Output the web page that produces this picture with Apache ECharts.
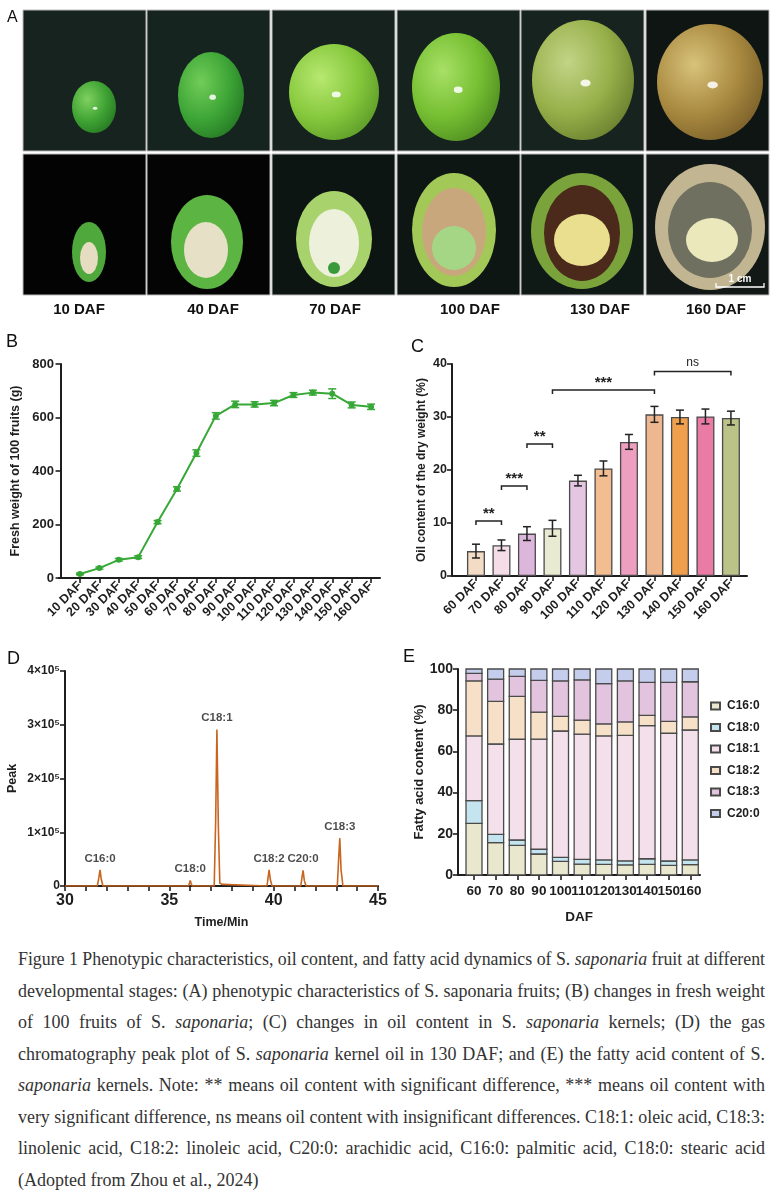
<!DOCTYPE html>
<html><head><meta charset="utf-8">
<script src="https://cdn.jsdelivr.net/npm/echarts@6/dist/echarts.min.js"></script>
<style>
html,body{margin:0;padding:0;background:#fff;}
#chart{position:absolute;left:0;top:0;width:774px;height:940px;}
#caption{position:absolute;left:18px;top:944px;width:747px;font-family:'Liberation Serif','Times New Roman',serif;font-size:18px;line-height:31.5px;color:#333;}
#caption .ln{white-space:nowrap;height:31.5px;}
#caption .ln span{display:inline-block;transform-origin:left center;}
</style></head><body>
<div id="chart"></div>
<div id="caption"></div>
<script>
// ---------- DATA ----------
// (B) fresh weight of 100 fruits
const weightDays = ['10 DAF','20 DAF','30 DAF','40 DAF','50 DAF','60 DAF','70 DAF','80 DAF','90 DAF','100 DAF','110 DAF','120 DAF','130 DAF','140 DAF','150 DAF','160 DAF'];
const weightMean = [15,37,68,78,209,333,467,606,649,649,654,684,693,689,647,640];
const weightErr  = [3,4,5,5,6,8,12,12,12,10,10,9,9,18,11,10];

// (C) oil content of the dry weight
const oilDays = ['60 DAF','70 DAF','80 DAF','90 DAF','100 DAF','110 DAF','120 DAF','130 DAF','140 DAF','150 DAF','160 DAF'];
const oilMean = [4.7,5.8,8.0,9.0,18.0,20.3,25.3,30.5,30.0,30.1,29.8];
const oilErr  = [1.3,1.0,1.3,1.5,1.0,1.4,1.4,1.5,1.3,1.4,1.3];
const oilColors = ['#f3dcc6','#f5dde8','#ddb7db','#e9ead2','#e5c6e2','#f2bd90','#ee9fc0','#eeb78f','#f0a04c','#ea7ba4','#bcc388'];
// significance brackets: from index, to index, bracket height, mark
const sigFrom  = [0,1,2,3,7];
const sigTo    = [1,2,3,7,10];
const sigLevel = [10.4,17.0,24.9,35.1,38.6];
const sigMark  = ['**','***','**','***','ns'];

// (D) GC chromatogram, 130 DAF
const gcTime   = [30,31.55,31.62,31.68,31.74,31.82,35.92,35.97,36.0,36.05,36.1,37.15,37.22,37.28,37.35,37.42,37.5,37.56,37.62,39.68,39.74,39.78,39.84,39.92,41.3,41.36,41.41,41.47,41.55,43.05,43.12,43.17,43.23,43.32,45];
const gcSignal = [0,0,15000,30000,12000,0,0,6000,10500,4000,0,0,120000,291000,110000,5000,6000,3000,0,0,18000,30000,12000,0,0,17000,29000,10000,0,0,55000,89000,30000,0,0];
const gcPeakTime = [31.68,36.0,37.28,39.78,41.41,43.17];
const gcPeakName = ['C16:0','C18:0','C18:1','C18:2','C20:0','C18:3'];

// (E) fatty acid composition (%)
const faDays = ['60','70','80','90','100','110','120','130','140','150','160'];
const faNames = ['C16:0','C18:0','C18:1','C18:2','C18:3','C20:0'];
const c16_0 = [25.1,15.7,14.4,10.2,6.6,5.3,5.2,4.9,5.2,4.7,5.0];
const c18_0 = [11.0,4.0,2.6,2.3,2.0,2.3,2.1,2.0,2.7,2.1,2.3];
const c18_1 = [31.4,43.9,48.9,53.5,61.3,60.8,60.2,60.9,64.6,62.0,63.1];
const c18_2 = [26.7,20.7,20.8,13.1,7.1,6.8,5.9,6.5,5.0,5.8,6.4];
const c18_3 = [3.7,10.8,9.7,15.4,17.2,19.5,19.5,19.9,16.0,18.9,17.0];
const c20_0 = [2.1,4.9,3.6,5.5,5.8,5.3,7.1,5.8,6.5,6.5,6.2];
const faColors = ['#e9e7cd','#c4e4ef','#f4e0ea','#f6e0c8','#e2c4df','#c4cdeb'];

// (A) stage labels
const photoDays = ['10 DAF','40 DAF','70 DAF','100 DAF','130 DAF','160 DAF'];

// ---------- STYLE HELPERS ----------
const FF = "'Liberation Sans', Arial, Helvetica, sans-serif";
const INK = '#1e1e1e';
const axisLine = {show:true, lineStyle:{color:INK, width:2}};
const axisTick = {show:true, length:5, lineStyle:{color:INK, width:1.6}};
function lab(size, extra){ return Object.assign({color:INK, fontWeight:'bold', fontFamily:FF, fontSize:size}, extra||{}); }
function nameStyle(size){ return {color:INK, fontWeight:'bold', fontFamily:FF, fontSize:size}; }

function errorBarRender(color, halfW){
  return function(params, api){
    const x = api.value(0), y = api.value(1), e = api.value(2);
    const hi = api.coord([x, y + e]), lo = api.coord([x, y - e]);
    const st = {stroke:color, lineWidth:1.5};
    return {type:'group', children:[
      {type:'line', shape:{x1:hi[0], y1:hi[1], x2:lo[0], y2:lo[1]}, style:st},
      {type:'line', shape:{x1:hi[0]-halfW, y1:hi[1], x2:hi[0]+halfW, y2:hi[1]}, style:st},
      {type:'line', shape:{x1:lo[0]-halfW, y1:lo[1], x2:lo[0]+halfW, y2:lo[1]}, style:st}
    ]};
  };
}

// ---------- PANEL A (photo placeholders) ----------
const colX = [23,147,272,397,521,646];
const colW = 123;
const rowY = [10,154];
const rowH = 141;
const topBg = ['#16231f','#16241f','#15221e','#15221d','#17231f','#0f1512'];
const botBg = ['#030303','#040404','#0c1512','#0d1613','#0f1915','#121816'];
const fruitTop = [
  [94,107,22,26,'#7fd15f','#3fa334','#1f6a1c'],
  [211,95,33,43,'#72cc58','#3ea637','#1d6b1d'],
  [334,92,45,48,'#b7e870','#86c83c','#4f8c22'],
  [456,87,44,54,'#a8e066','#76bf32','#427d1c'],
  [583,80,51,60,'#c2d487','#98b04a','#5b6f25'],
  [710,82,53,58,'#d8c27a','#a98a40','#6b5222']
];
const fruitBot = [
  [89,252,17,30,'#4fa83c',[[89,258,9,16,'#e6dcc2']]],
  [207,242,36,47,'#5cb542',[[206,250,22,28,'#e5e0c6']]],
  [334,239,38,48,'#a8d26b',[[334,243,25,34,'#edf1dc'],[334,268,6,6,'#3a9a3a']]],
  [454,230,42,57,'#a2c957',[[454,232,32,44,'#c9a77c'],[454,248,22,22,'#a4d685']]],
  [582,231,51,58,'#7aa43b',[[582,233,38,48,'#4b2a1b'],[582,240,28,26,'#eadf8e']]],
  [710,227,55,63,'#c2b592',[[710,230,42,48,'#6f705f'],[712,240,26,22,'#ebe8bc']]]
];
function ell(cx,cy,rx,ry,c1,c2,c3){
  const fill = c2 ? {type:'radial', x:0.35, y:0.35, r:0.85, colorStops:[{offset:0,color:c1},{offset:0.5,color:c2},{offset:1,color:c3}]} : c1;
  return {type:'circle', x:cx, y:cy, scaleX:rx, scaleY:ry, shape:{cx:0,cy:0,r:1}, style:{fill:fill}, silent:true};
}
const photoEls = [];
for (let i=0;i<6;i++){
  photoEls.push({type:'rect', shape:{x:colX[i], y:rowY[0], width:colW, height:rowH}, style:{fill:topBg[i], stroke:'#bbb', lineWidth:1}, silent:true});
  photoEls.push({type:'rect', shape:{x:colX[i], y:rowY[1], width:colW, height:rowH}, style:{fill:botBg[i], stroke:'#bbb', lineWidth:1}, silent:true});
  const f = fruitTop[i];
  photoEls.push(ell(f[0],f[1],f[2],f[3],f[4],f[5],f[6]));
  photoEls.push(ell(f[0]+f[2]*0.05,f[1]+f[3]*0.05,f[2]*0.1,f[3]*0.06,'rgba(255,255,255,0.85)'));
  const b = fruitBot[i];
  photoEls.push(ell(b[0],b[1],b[2],b[3],b[4]));
  b[5].forEach(k=>photoEls.push(ell(k[0],k[1],k[2],k[3],k[4])));
  photoEls.push({type:'text', style:{text:photoDays[i], x:[79,213,335,470,600,716][i], y:310, align:'center', verticalAlign:'middle', font:"bold 15px 'Liberation Sans', Arial, sans-serif", fill:'#111'}, silent:true});
}
photoEls.push({type:'polyline', shape:{points:[[716,283],[716,287],[764,287],[764,283]]}, style:{stroke:'#fff', lineWidth:1.3, fill:null}, silent:true});
photoEls.push({type:'text', style:{text:'1 cm', x:740, y:279, align:'center', verticalAlign:'middle', font:"bold 10px 'Liberation Sans', Arial, sans-serif", fill:'#fff'}, silent:true});

const letters = [['A',7,18,16],['B',6,342,18],['C',411,347,18],['D',7,659,18],['E',403,657,18]];
letters.forEach(l=>photoEls.push({type:'text', style:{text:l[0], x:l[1], y:l[2], verticalAlign:'middle', font:l[3]+"px 'Liberation Sans', Arial, sans-serif", fill:'#111'}, silent:true}));

// ---------- CHART ----------
const chart = echarts.init(document.getElementById('chart'), null, {renderer:'canvas'});

const gcPeakData = gcPeakTime.map((t,k)=>({value:[t, gcSignal[gcTime.indexOf(t)]], name:gcPeakName[k]}));

const faSeries = [c16_0,c18_0,c18_1,c18_2,c18_3,c20_0];
const faBottoms = faSeries.map((s,si)=>s.map((v,i)=>{let b=0; for(let j=0;j<si;j++) b+=faSeries[j][i]; return b;}));
const faPos = faDays.map((d,i)=>i+1);
const faPosOdd = faPos.filter((p,i)=>i%2===0);   // 60, 80, ... 160
const faPosEven = faPos.filter((p,i)=>i%2===1);  // 70, 90, ... 150

const option = {
  animation:false,
  backgroundColor:'#fff',
  graphic: photoEls,
  grid:[
    {left:59, top:364, width:321, height:214},
    {left:452, top:364, width:295, height:212},
    {left:65, top:671, width:313, height:215},
    {left:458, top:669, width:242, height:206}
  ],
  xAxis:[
    {gridIndex:0, type:'value', min:-0.08, max:16.46, axisLine:axisLine,
     axisTick:Object.assign({customValues:weightDays.map((d,i)=>i+1)}, axisTick),
     axisLabel:lab(12.5,{rotate:45, margin:6, showMaxLabel:true, showMinLabel:true, hideOverlap:false,
       customValues:weightDays.map((d,i)=>i+1), formatter:v=>weightDays[Math.round(v)-1]||''}),
     splitLine:{show:false}},
    {gridIndex:1, type:'value', min:0.06, max:11.63, axisLine:axisLine,
     axisTick:Object.assign({customValues:oilDays.map((d,i)=>i+1)}, axisTick),
     axisLabel:lab(12.5,{rotate:45, margin:6, showMaxLabel:true, showMinLabel:true, hideOverlap:false,
       customValues:oilDays.map((d,i)=>i+1), formatter:v=>oilDays[Math.round(v)-1]||''}),
     splitLine:{show:false}},
    {gridIndex:2, type:'value', min:30, max:45, interval:1, axisLine:axisLine, axisTick:axisTick,
     axisLabel:lab(16,{margin:7, formatter:v=>(v%5===0?String(v):'')}),
     name:'Time/Min', nameLocation:'middle', nameGap:30, nameTextStyle:nameStyle(12.5),
     splitLine:{show:false}},
    {gridIndex:3, type:'value', position:'bottom', min:0.26, max:11.45, axisLine:axisLine,
     axisTick:Object.assign({customValues:faPos}, axisTick),
     axisLabel:lab(13.5,{margin:9, showMaxLabel:true, showMinLabel:true, hideOverlap:false,
       customValues:faPosOdd, formatter:v=>faDays[Math.round(v)-1]||''}),
     name:'DAF', nameLocation:'middle', nameGap:35, nameTextStyle:nameStyle(13.5),
     splitLine:{show:false}},
    {gridIndex:3, type:'value', position:'bottom', offset:0, min:0.26, max:11.45, axisLine:{show:false},
     axisTick:{show:false},
     axisLabel:lab(13.5,{margin:9, showMaxLabel:true, showMinLabel:true, hideOverlap:false,
       customValues:faPosEven, formatter:v=>faDays[Math.round(v)-1]||''}),
     splitLine:{show:false}}
  ],
  yAxis:[
    {gridIndex:0, type:'value', min:0, max:800, interval:200, axisLine:axisLine, axisTick:axisTick,
     axisLabel:lab(13,{margin:5}), splitLine:{show:false},
     name:'Fresh weight of 100 fruits (g)', nameLocation:'middle', nameGap:37, nameTextStyle:nameStyle(12.5)},
    {gridIndex:1, type:'value', min:0, max:40, interval:10, axisLine:axisLine, axisTick:axisTick,
     axisLabel:lab(12.5,{margin:5}), splitLine:{show:false},
     name:'Oil content of the dry weight (%)', nameLocation:'middle', nameGap:24, nameTextStyle:nameStyle(12)},
    {gridIndex:2, type:'value', min:0, max:400000, interval:100000, axisLine:axisLine, axisTick:axisTick,
     axisLabel:lab(12,{margin:5, formatter:v=>(v===0?'0':(v/100000)+'×10⁵')}), splitLine:{show:false},
     name:'Peak', nameLocation:'middle', nameGap:46, nameTextStyle:nameStyle(12.5)},
    {gridIndex:3, type:'value', min:0, max:100, interval:20, axisLine:axisLine, axisTick:axisTick,
     axisLabel:lab(14,{margin:5}), splitLine:{show:false},
     name:'Fatty acid content (%)', nameLocation:'middle', nameGap:31, nameTextStyle:nameStyle(13)}
  ],
  legend:{
    show:true, orient:'vertical', left:705, top:695, itemGap:9.5, itemWidth:9, itemHeight:7,
    icon:'rect', data:faNames.slice(),
    textStyle:{color:INK, fontWeight:'bold', fontFamily:FF, fontSize:12, padding:[0,0,0,2]}
  },
  series:[
    // B
    {type:'line', xAxisIndex:0, yAxisIndex:0, data:weightMean.map((v,i)=>[i+1,v]),
     symbol:'circle', symbolSize:6, lineStyle:{color:'#37a836', width:2}, itemStyle:{color:'#37a836'}, z:3},
    {type:'custom', xAxisIndex:0, yAxisIndex:0, data:weightMean.map((v,i)=>[i+1,v,weightErr[i]]),
     encode:{x:0,y:1}, renderItem:errorBarRender('#37a836',4), z:4},
    // C
    {type:'bar', xAxisIndex:1, yAxisIndex:1, barWidth:18,
     data:oilMean.map((v,i)=>({value:[i+1,v], itemStyle:{color:oilColors[i], borderColor:'#4a4a4a', borderWidth:1.3}}))},
    {type:'custom', xAxisIndex:1, yAxisIndex:1, data:oilMean.map((v,i)=>[i+1,v,oilErr[i]]),
     encode:{x:0,y:1}, renderItem:errorBarRender('#222',4), z:4},
    {type:'custom', xAxisIndex:1, yAxisIndex:1, data:sigFrom.map((f,i)=>[f+1, sigLevel[i], sigTo[i]+1]),
     encode:{x:[0,2], y:1}, z:5,
     renderItem:function(params, api){
       const x1 = api.value(0), y = api.value(1), x2 = api.value(2);
       const p1 = api.coord([x1,y]), p2 = api.coord([x2,y]);
       const drop = 4;
       const mark = sigMark[params.dataIndex];
       const isNs = mark === 'ns';
       return {type:'group', children:[
         {type:'polyline', shape:{points:[[p1[0],p1[1]+drop],[p1[0],p1[1]],[p2[0],p2[1]],[p2[0],p2[1]+drop]]}, style:{stroke:'#222', lineWidth:1.5, fill:null}},
         {type:'text', style:{text:mark, x:(p1[0]+p2[0])/2, y:p1[1]-(isNs?9:7), align:'center', verticalAlign:'middle',
           font:(isNs? "12px " : "bold 15px ")+"'Liberation Sans', Arial, sans-serif", fill:'#222'}}
       ]};
     }},
    // D
    {type:'line', xAxisIndex:2, yAxisIndex:2, data:gcTime.map((t,i)=>[t, gcSignal[i]]), symbol:'none', showSymbol:false,
     lineStyle:{color:'#c8661f', width:1.6}, itemStyle:{color:'#c8661f'}},
    {type:'scatter', xAxisIndex:2, yAxisIndex:2, data:gcPeakData, symbolSize:1, itemStyle:{color:'rgba(0,0,0,0)'},
     label:{show:true, formatter:'{b}', position:'top', distance:5, color:INK, fontWeight:'bold', fontFamily:FF, fontSize:11.5}}
  ].concat(faNames.map((name,si)=>({
    // E stacked columns from cumulative bottoms
    type:'custom', name:name, xAxisIndex:3, yAxisIndex:3,
    itemStyle:{color:faColors[si], borderColor:'#4a4a4a', borderWidth:1.3},
    data:faSeries[si].map((v,i)=>[i+1, faBottoms[si][i], faBottoms[si][i]+v]),
    encode:{x:0, y:[1,2]},
    renderItem:function(params, api){
      const x = api.value(0), b = api.value(1), t = api.value(2);
      const pb = api.coord([x,b]), pt = api.coord([x,t]);
      const w = 16;
      return {type:'rect', shape:{x:pb[0]-w/2, y:pt[1], width:w, height:pb[1]-pt[1]},
        style:{fill:faColors[si], stroke:'#4a4a4a', lineWidth:1.3}};
    }
  })))
};
chart.setOption(option);

// ---------- CAPTION ----------
const captionLines = [
  'Figure 1 Phenotypic characteristics, oil content, and fatty acid dynamics of S. <i>saponaria</i> fruit at different',
  'developmental stages: (A) phenotypic characteristics of S. saponaria fruits; (B) changes in fresh weight',
  'of 100 fruits of S. <i>saponaria</i>; (C) changes in oil content in S. <i>saponaria</i> kernels; (D) the gas',
  'chromatography peak plot of S. <i>saponaria</i> kernel oil in 130 DAF; and (E) the fatty acid content of S.',
  '<i>saponaria</i> kernels. Note: ** means oil content with significant difference, *** means oil content with',
  'very significant difference, ns means oil content with insignificant differences. C18:1: oleic acid, C18:3:',
  'linolenic acid, C18:2: linoleic acid, C20:0: arachidic acid, C16:0: palmitic acid, C18:0: stearic acid',
  '(Adopted from Zhou et al., 2024)'
];
const cap = document.getElementById('caption');
const W = 747;
captionLines.forEach((html, idx)=>{
  const d = document.createElement('div'); d.className='ln';
  const s = document.createElement('span'); s.innerHTML = html;
  d.appendChild(s); cap.appendChild(d);
  const w = s.getBoundingClientRect().width;
  if (idx === captionLines.length-1) { if (w > W) s.style.transform = 'scaleX(' + (W/w) + ')'; return; }
  if (w > W) { s.style.transform = 'scaleX(' + (W/w) + ')'; }
  else {
    const spaces = (s.textContent.match(/ /g)||[]).length;
    if (spaces) s.style.wordSpacing = ((W - w)/spaces) + 'px';
  }
});
</script>
</body></html>
